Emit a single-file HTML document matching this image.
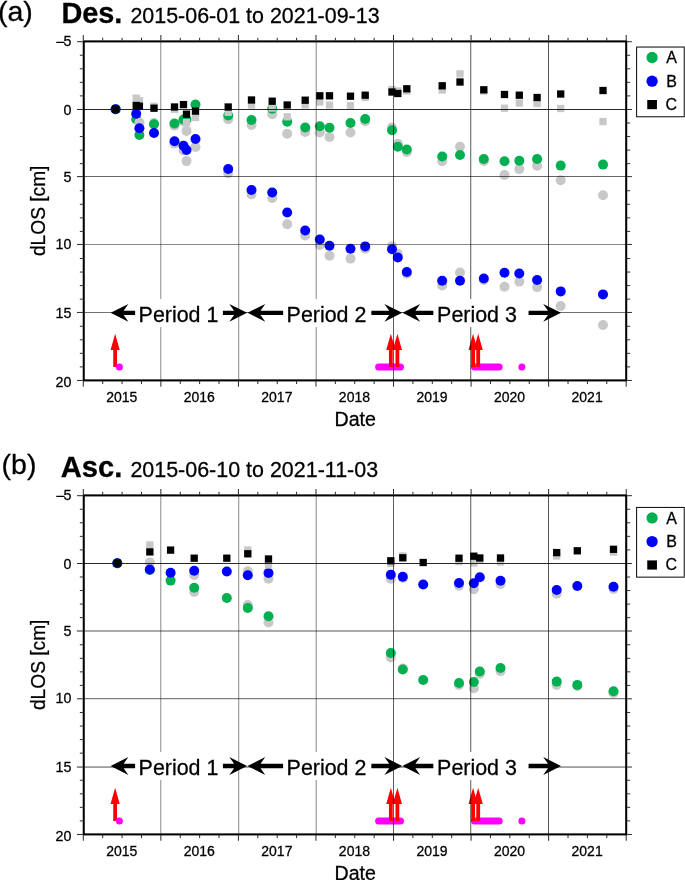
<!DOCTYPE html>
<html><head><meta charset="utf-8"><title>dLOS time series</title>
<style>html,body{margin:0;padding:0;background:#fff}body{width:685px;height:880px;overflow:hidden;font-family:"Liberation Sans",sans-serif}</style>
</head><body>
<svg width="685" height="880" viewBox="0 0 685 880" style="display:block;will-change:transform">
<rect width="685" height="880" fill="#fff"/>
<circle cx="154.0" cy="123.0" r="5" fill="#c8c8c8"/>
<circle cx="174.5" cy="125.6" r="5" fill="#c8c8c8"/>
<circle cx="183.5" cy="121.5" r="5" fill="#c8c8c8"/>
<circle cx="186.5" cy="130.9" r="5" fill="#c8c8c8"/>
<circle cx="228.2" cy="119.3" r="5" fill="#c8c8c8"/>
<circle cx="251.5" cy="125.0" r="5" fill="#c8c8c8"/>
<circle cx="272.2" cy="114.2" r="5" fill="#c8c8c8"/>
<circle cx="287.2" cy="133.8" r="5" fill="#c8c8c8"/>
<circle cx="305.2" cy="132.0" r="5" fill="#c8c8c8"/>
<circle cx="319.8" cy="132.5" r="5" fill="#c8c8c8"/>
<circle cx="329.5" cy="137.0" r="5" fill="#c8c8c8"/>
<circle cx="350.5" cy="132.5" r="5" fill="#c8c8c8"/>
<circle cx="365.2" cy="121.3" r="5" fill="#c8c8c8"/>
<circle cx="392.0" cy="127.5" r="5" fill="#c8c8c8"/>
<circle cx="397.8" cy="143.8" r="5" fill="#c8c8c8"/>
<circle cx="406.8" cy="152.0" r="5" fill="#c8c8c8"/>
<circle cx="442.2" cy="161.2" r="5" fill="#c8c8c8"/>
<circle cx="460.0" cy="146.8" r="5" fill="#c8c8c8"/>
<circle cx="483.8" cy="161.0" r="5" fill="#c8c8c8"/>
<circle cx="504.5" cy="175.0" r="5" fill="#c8c8c8"/>
<circle cx="519.3" cy="169.1" r="5" fill="#c8c8c8"/>
<circle cx="537.1" cy="165.8" r="5" fill="#c8c8c8"/>
<circle cx="560.7" cy="180.2" r="5" fill="#c8c8c8"/>
<circle cx="603.0" cy="195.2" r="5" fill="#c8c8c8"/>
<circle cx="115.6" cy="109.2" r="5" fill="#00b050"/>
<circle cx="136.2" cy="119.2" r="5" fill="#00b050"/>
<circle cx="139.4" cy="135.0" r="5" fill="#00b050"/>
<circle cx="154.0" cy="124.2" r="5" fill="#00b050"/>
<circle cx="174.5" cy="123.5" r="5" fill="#00b050"/>
<circle cx="183.5" cy="119.5" r="5" fill="#00b050"/>
<circle cx="186.5" cy="119.5" r="5" fill="#00b050"/>
<circle cx="195.5" cy="104.5" r="5" fill="#00b050"/>
<circle cx="228.2" cy="115.5" r="5" fill="#00b050"/>
<circle cx="251.5" cy="120.0" r="5" fill="#00b050"/>
<circle cx="272.2" cy="108.8" r="5" fill="#00b050"/>
<circle cx="287.2" cy="121.8" r="5" fill="#00b050"/>
<circle cx="305.2" cy="127.5" r="5" fill="#00b050"/>
<circle cx="319.8" cy="126.2" r="5" fill="#00b050"/>
<circle cx="329.5" cy="127.8" r="5" fill="#00b050"/>
<circle cx="350.5" cy="123.0" r="5" fill="#00b050"/>
<circle cx="365.2" cy="119.0" r="5" fill="#00b050"/>
<circle cx="392.0" cy="130.2" r="5" fill="#00b050"/>
<circle cx="397.8" cy="146.8" r="5" fill="#00b050"/>
<circle cx="406.8" cy="149.5" r="5" fill="#00b050"/>
<circle cx="442.2" cy="156.5" r="5" fill="#00b050"/>
<circle cx="460.0" cy="155.0" r="5" fill="#00b050"/>
<circle cx="483.8" cy="159.0" r="5" fill="#00b050"/>
<circle cx="504.5" cy="161.2" r="5" fill="#00b050"/>
<circle cx="519.3" cy="160.8" r="5" fill="#00b050"/>
<circle cx="537.1" cy="159.0" r="5" fill="#00b050"/>
<circle cx="560.7" cy="165.6" r="5" fill="#00b050"/>
<circle cx="603.0" cy="164.6" r="5" fill="#00b050"/>
<circle cx="139.4" cy="122.5" r="5" fill="#c8c8c8"/>
<circle cx="174.5" cy="143.6" r="5" fill="#c8c8c8"/>
<circle cx="183.5" cy="150.5" r="5" fill="#c8c8c8"/>
<circle cx="186.5" cy="161.1" r="5" fill="#c8c8c8"/>
<circle cx="195.5" cy="147.0" r="5" fill="#c8c8c8"/>
<circle cx="228.2" cy="173.2" r="5" fill="#c8c8c8"/>
<circle cx="251.5" cy="194.5" r="5" fill="#c8c8c8"/>
<circle cx="272.2" cy="198.0" r="5" fill="#c8c8c8"/>
<circle cx="287.2" cy="224.2" r="5" fill="#c8c8c8"/>
<circle cx="305.2" cy="235.5" r="5" fill="#c8c8c8"/>
<circle cx="319.8" cy="245.0" r="5" fill="#c8c8c8"/>
<circle cx="329.5" cy="255.8" r="5" fill="#c8c8c8"/>
<circle cx="350.5" cy="258.8" r="5" fill="#c8c8c8"/>
<circle cx="365.2" cy="248.8" r="5" fill="#c8c8c8"/>
<circle cx="392.0" cy="246.2" r="5" fill="#c8c8c8"/>
<circle cx="397.8" cy="253.8" r="5" fill="#c8c8c8"/>
<circle cx="406.8" cy="273.8" r="5" fill="#c8c8c8"/>
<circle cx="442.2" cy="285.5" r="5" fill="#c8c8c8"/>
<circle cx="460.0" cy="272.5" r="5" fill="#c8c8c8"/>
<circle cx="483.8" cy="280.0" r="5" fill="#c8c8c8"/>
<circle cx="504.5" cy="286.8" r="5" fill="#c8c8c8"/>
<circle cx="519.3" cy="281.6" r="5" fill="#c8c8c8"/>
<circle cx="537.1" cy="287.1" r="5" fill="#c8c8c8"/>
<circle cx="560.7" cy="306.0" r="5" fill="#c8c8c8"/>
<circle cx="603.0" cy="325.0" r="5" fill="#c8c8c8"/>
<circle cx="115.6" cy="109.2" r="5" fill="#0000ff"/>
<circle cx="136.2" cy="113.8" r="5" fill="#0000ff"/>
<circle cx="139.4" cy="128.2" r="5" fill="#0000ff"/>
<circle cx="154.0" cy="133.0" r="5" fill="#0000ff"/>
<circle cx="174.5" cy="141.2" r="5" fill="#0000ff"/>
<circle cx="183.5" cy="145.8" r="5" fill="#0000ff"/>
<circle cx="186.5" cy="150.0" r="5" fill="#0000ff"/>
<circle cx="195.5" cy="139.0" r="5" fill="#0000ff"/>
<circle cx="228.2" cy="169.0" r="5" fill="#0000ff"/>
<circle cx="251.5" cy="190.0" r="5" fill="#0000ff"/>
<circle cx="272.2" cy="192.5" r="5" fill="#0000ff"/>
<circle cx="287.2" cy="212.5" r="5" fill="#0000ff"/>
<circle cx="305.2" cy="230.5" r="5" fill="#0000ff"/>
<circle cx="319.8" cy="239.5" r="5" fill="#0000ff"/>
<circle cx="329.5" cy="245.8" r="5" fill="#0000ff"/>
<circle cx="350.5" cy="248.8" r="5" fill="#0000ff"/>
<circle cx="365.2" cy="246.4" r="5" fill="#0000ff"/>
<circle cx="392.0" cy="249.2" r="5" fill="#0000ff"/>
<circle cx="397.8" cy="257.5" r="5" fill="#0000ff"/>
<circle cx="406.8" cy="272.0" r="5" fill="#0000ff"/>
<circle cx="442.2" cy="280.8" r="5" fill="#0000ff"/>
<circle cx="460.0" cy="280.8" r="5" fill="#0000ff"/>
<circle cx="483.8" cy="278.5" r="5" fill="#0000ff"/>
<circle cx="504.5" cy="272.8" r="5" fill="#0000ff"/>
<circle cx="519.3" cy="273.5" r="5" fill="#0000ff"/>
<circle cx="537.1" cy="280.0" r="5" fill="#0000ff"/>
<circle cx="560.7" cy="291.4" r="5" fill="#0000ff"/>
<circle cx="603.0" cy="294.4" r="5" fill="#0000ff"/>
<rect x="132.55" y="94.55" width="7.3" height="7.3" fill="#c8c8c8"/>
<rect x="135.75" y="96.95" width="7.3" height="7.3" fill="#c8c8c8"/>
<rect x="150.35" y="102.75" width="7.3" height="7.3" fill="#c8c8c8"/>
<rect x="170.85" y="105.65" width="7.3" height="7.3" fill="#c8c8c8"/>
<rect x="182.85" y="118.85" width="7.3" height="7.3" fill="#c8c8c8"/>
<rect x="191.85" y="113.85" width="7.3" height="7.3" fill="#c8c8c8"/>
<rect x="224.55" y="108.65" width="7.3" height="7.3" fill="#c8c8c8"/>
<rect x="247.85" y="101.35" width="7.3" height="7.3" fill="#c8c8c8"/>
<rect x="268.55" y="104.35" width="7.3" height="7.3" fill="#c8c8c8"/>
<rect x="283.55" y="113.15" width="7.3" height="7.3" fill="#c8c8c8"/>
<rect x="301.55" y="101.35" width="7.3" height="7.3" fill="#c8c8c8"/>
<rect x="316.15" y="98.35" width="7.3" height="7.3" fill="#c8c8c8"/>
<rect x="325.85" y="101.35" width="7.3" height="7.3" fill="#c8c8c8"/>
<rect x="346.85" y="101.85" width="7.3" height="7.3" fill="#c8c8c8"/>
<rect x="361.55" y="93.85" width="7.3" height="7.3" fill="#c8c8c8"/>
<rect x="388.35" y="85.85" width="7.3" height="7.3" fill="#c8c8c8"/>
<rect x="394.15" y="87.35" width="7.3" height="7.3" fill="#c8c8c8"/>
<rect x="403.15" y="87.35" width="7.3" height="7.3" fill="#c8c8c8"/>
<rect x="438.55" y="86.35" width="7.3" height="7.3" fill="#c8c8c8"/>
<rect x="456.35" y="70.15" width="7.3" height="7.3" fill="#c8c8c8"/>
<rect x="480.15" y="87.35" width="7.3" height="7.3" fill="#c8c8c8"/>
<rect x="500.85" y="104.55" width="7.3" height="7.3" fill="#c8c8c8"/>
<rect x="515.65" y="99.35" width="7.3" height="7.3" fill="#c8c8c8"/>
<rect x="533.45" y="99.85" width="7.3" height="7.3" fill="#c8c8c8"/>
<rect x="557.05" y="104.85" width="7.3" height="7.3" fill="#c8c8c8"/>
<rect x="599.35" y="117.95" width="7.3" height="7.3" fill="#c8c8c8"/>
<rect x="111.95" y="105.55" width="7.3" height="7.3" fill="#000"/>
<rect x="132.55" y="101.85" width="7.3" height="7.3" fill="#000"/>
<rect x="135.75" y="102.55" width="7.3" height="7.3" fill="#000"/>
<rect x="150.35" y="104.55" width="7.3" height="7.3" fill="#000"/>
<rect x="170.85" y="103.35" width="7.3" height="7.3" fill="#000"/>
<rect x="179.85" y="100.95" width="7.3" height="7.3" fill="#000"/>
<rect x="182.85" y="110.55" width="7.3" height="7.3" fill="#000"/>
<rect x="191.85" y="107.45" width="7.3" height="7.3" fill="#000"/>
<rect x="224.55" y="103.35" width="7.3" height="7.3" fill="#000"/>
<rect x="247.85" y="96.35" width="7.3" height="7.3" fill="#000"/>
<rect x="268.55" y="97.55" width="7.3" height="7.3" fill="#000"/>
<rect x="283.55" y="101.35" width="7.3" height="7.3" fill="#000"/>
<rect x="301.55" y="96.55" width="7.3" height="7.3" fill="#000"/>
<rect x="316.15" y="92.15" width="7.3" height="7.3" fill="#000"/>
<rect x="325.85" y="92.15" width="7.3" height="7.3" fill="#000"/>
<rect x="346.85" y="92.55" width="7.3" height="7.3" fill="#000"/>
<rect x="361.55" y="91.55" width="7.3" height="7.3" fill="#000"/>
<rect x="388.35" y="88.35" width="7.3" height="7.3" fill="#000"/>
<rect x="394.15" y="89.85" width="7.3" height="7.3" fill="#000"/>
<rect x="403.15" y="85.15" width="7.3" height="7.3" fill="#000"/>
<rect x="438.55" y="82.15" width="7.3" height="7.3" fill="#000"/>
<rect x="456.35" y="78.35" width="7.3" height="7.3" fill="#000"/>
<rect x="480.15" y="86.15" width="7.3" height="7.3" fill="#000"/>
<rect x="500.85" y="90.85" width="7.3" height="7.3" fill="#000"/>
<rect x="515.65" y="91.55" width="7.3" height="7.3" fill="#000"/>
<rect x="533.45" y="93.85" width="7.3" height="7.3" fill="#000"/>
<rect x="557.05" y="90.35" width="7.3" height="7.3" fill="#000"/>
<rect x="599.35" y="86.85" width="7.3" height="7.3" fill="#000"/>
<line x1="378.65" y1="366.95" x2="400.45" y2="366.95" stroke="#f0f" stroke-width="7.1" stroke-linecap="round"/>
<line x1="474.55" y1="366.95" x2="499.15" y2="366.95" stroke="#f0f" stroke-width="7.1" stroke-linecap="round"/>
<path d="M113.25,366.95 L113.25,350.10 L110.55,350.10 L115.15,333.80 L119.75,350.10 L117.05,350.10 L117.05,366.95 Z" fill="#f00"/>
<path d="M388.94,366.95 L388.94,350.10 L386.24,350.10 L390.84,333.80 L395.44,350.10 L392.74,350.10 L392.74,366.95 Z" fill="#f00"/>
<path d="M395.50,366.95 L395.50,350.10 L392.80,350.10 L397.40,333.80 L402.00,350.10 L399.30,350.10 L399.30,366.95 Z" fill="#f00"/>
<path d="M471.18,366.95 L471.18,350.10 L468.48,350.10 L473.08,333.80 L477.68,350.10 L474.98,350.10 L474.98,366.95 Z" fill="#f00"/>
<path d="M476.29,366.95 L476.29,350.10 L473.59,350.10 L478.19,333.80 L482.79,350.10 L480.09,350.10 L480.09,366.95 Z" fill="#f00"/>
<circle cx="119.4" cy="366.95" r="3.5" fill="#f0f"/>
<circle cx="521.9" cy="366.95" r="3.5" fill="#f0f"/>
<rect x="160.670" y="41.40" width="0.46" height="338.75" fill="#000"/>
<rect x="238.635" y="41.40" width="0.47" height="338.75" fill="#000"/>
<rect x="315.850" y="41.40" width="0.48" height="338.75" fill="#000"/>
<rect x="393.185" y="41.40" width="0.63" height="338.75" fill="#000"/>
<rect x="470.500" y="41.40" width="0.65" height="338.75" fill="#000"/>
<rect x="548.165" y="41.40" width="0.67" height="338.75" fill="#000"/>
<rect x="83.75" y="109.045" width="542.45" height="0.85" fill="#000"/>
<rect x="83.75" y="176.320" width="542.45" height="0.6" fill="#000"/>
<rect x="83.75" y="244.215" width="542.45" height="0.47" fill="#000"/>
<rect x="83.75" y="312.170" width="542.45" height="0.56" fill="#000"/>
<rect x="83.75" y="41.40" width="542.45" height="339.00" fill="none" stroke="#000" stroke-width="2.05"/>
<line x1="83.30" y1="40.40" x2="83.30" y2="35.00" stroke="#000" stroke-width="0.85"/>
<line x1="83.30" y1="381.15" x2="83.30" y2="386.75" stroke="#000" stroke-width="0.85"/>
<line x1="102.69" y1="40.40" x2="102.69" y2="37.80" stroke="#000" stroke-width="0.85"/>
<line x1="102.69" y1="381.15" x2="102.69" y2="384.05" stroke="#000" stroke-width="0.85"/>
<line x1="122.08" y1="40.40" x2="122.08" y2="37.80" stroke="#000" stroke-width="0.85"/>
<line x1="122.08" y1="381.15" x2="122.08" y2="384.05" stroke="#000" stroke-width="0.85"/>
<line x1="141.47" y1="40.40" x2="141.47" y2="37.80" stroke="#000" stroke-width="0.85"/>
<line x1="141.47" y1="381.15" x2="141.47" y2="384.05" stroke="#000" stroke-width="0.85"/>
<line x1="160.86" y1="40.40" x2="160.86" y2="35.00" stroke="#000" stroke-width="0.85"/>
<line x1="160.86" y1="381.15" x2="160.86" y2="386.75" stroke="#000" stroke-width="0.85"/>
<line x1="180.25" y1="40.40" x2="180.25" y2="37.80" stroke="#000" stroke-width="0.85"/>
<line x1="180.25" y1="381.15" x2="180.25" y2="384.05" stroke="#000" stroke-width="0.85"/>
<line x1="199.64" y1="40.40" x2="199.64" y2="37.80" stroke="#000" stroke-width="0.85"/>
<line x1="199.64" y1="381.15" x2="199.64" y2="384.05" stroke="#000" stroke-width="0.85"/>
<line x1="219.03" y1="40.40" x2="219.03" y2="37.80" stroke="#000" stroke-width="0.85"/>
<line x1="219.03" y1="381.15" x2="219.03" y2="384.05" stroke="#000" stroke-width="0.85"/>
<line x1="238.41" y1="40.40" x2="238.41" y2="35.00" stroke="#000" stroke-width="0.85"/>
<line x1="238.41" y1="381.15" x2="238.41" y2="386.75" stroke="#000" stroke-width="0.85"/>
<line x1="257.80" y1="40.40" x2="257.80" y2="37.80" stroke="#000" stroke-width="0.85"/>
<line x1="257.80" y1="381.15" x2="257.80" y2="384.05" stroke="#000" stroke-width="0.85"/>
<line x1="277.19" y1="40.40" x2="277.19" y2="37.80" stroke="#000" stroke-width="0.85"/>
<line x1="277.19" y1="381.15" x2="277.19" y2="384.05" stroke="#000" stroke-width="0.85"/>
<line x1="296.58" y1="40.40" x2="296.58" y2="37.80" stroke="#000" stroke-width="0.85"/>
<line x1="296.58" y1="381.15" x2="296.58" y2="384.05" stroke="#000" stroke-width="0.85"/>
<line x1="315.97" y1="40.40" x2="315.97" y2="35.00" stroke="#000" stroke-width="0.85"/>
<line x1="315.97" y1="381.15" x2="315.97" y2="386.75" stroke="#000" stroke-width="0.85"/>
<line x1="335.36" y1="40.40" x2="335.36" y2="37.80" stroke="#000" stroke-width="0.85"/>
<line x1="335.36" y1="381.15" x2="335.36" y2="384.05" stroke="#000" stroke-width="0.85"/>
<line x1="354.75" y1="40.40" x2="354.75" y2="37.80" stroke="#000" stroke-width="0.85"/>
<line x1="354.75" y1="381.15" x2="354.75" y2="384.05" stroke="#000" stroke-width="0.85"/>
<line x1="374.14" y1="40.40" x2="374.14" y2="37.80" stroke="#000" stroke-width="0.85"/>
<line x1="374.14" y1="381.15" x2="374.14" y2="384.05" stroke="#000" stroke-width="0.85"/>
<line x1="393.53" y1="40.40" x2="393.53" y2="35.00" stroke="#000" stroke-width="0.85"/>
<line x1="393.53" y1="381.15" x2="393.53" y2="386.75" stroke="#000" stroke-width="0.85"/>
<line x1="412.92" y1="40.40" x2="412.92" y2="37.80" stroke="#000" stroke-width="0.85"/>
<line x1="412.92" y1="381.15" x2="412.92" y2="384.05" stroke="#000" stroke-width="0.85"/>
<line x1="432.31" y1="40.40" x2="432.31" y2="37.80" stroke="#000" stroke-width="0.85"/>
<line x1="432.31" y1="381.15" x2="432.31" y2="384.05" stroke="#000" stroke-width="0.85"/>
<line x1="451.70" y1="40.40" x2="451.70" y2="37.80" stroke="#000" stroke-width="0.85"/>
<line x1="451.70" y1="381.15" x2="451.70" y2="384.05" stroke="#000" stroke-width="0.85"/>
<line x1="471.09" y1="40.40" x2="471.09" y2="35.00" stroke="#000" stroke-width="0.85"/>
<line x1="471.09" y1="381.15" x2="471.09" y2="386.75" stroke="#000" stroke-width="0.85"/>
<line x1="490.48" y1="40.40" x2="490.48" y2="37.80" stroke="#000" stroke-width="0.85"/>
<line x1="490.48" y1="381.15" x2="490.48" y2="384.05" stroke="#000" stroke-width="0.85"/>
<line x1="509.86" y1="40.40" x2="509.86" y2="37.80" stroke="#000" stroke-width="0.85"/>
<line x1="509.86" y1="381.15" x2="509.86" y2="384.05" stroke="#000" stroke-width="0.85"/>
<line x1="529.25" y1="40.40" x2="529.25" y2="37.80" stroke="#000" stroke-width="0.85"/>
<line x1="529.25" y1="381.15" x2="529.25" y2="384.05" stroke="#000" stroke-width="0.85"/>
<line x1="548.64" y1="40.40" x2="548.64" y2="35.00" stroke="#000" stroke-width="0.85"/>
<line x1="548.64" y1="381.15" x2="548.64" y2="386.75" stroke="#000" stroke-width="0.85"/>
<line x1="568.03" y1="40.40" x2="568.03" y2="37.80" stroke="#000" stroke-width="0.85"/>
<line x1="568.03" y1="381.15" x2="568.03" y2="384.05" stroke="#000" stroke-width="0.85"/>
<line x1="587.42" y1="40.40" x2="587.42" y2="37.80" stroke="#000" stroke-width="0.85"/>
<line x1="587.42" y1="381.15" x2="587.42" y2="384.05" stroke="#000" stroke-width="0.85"/>
<line x1="606.81" y1="40.40" x2="606.81" y2="37.80" stroke="#000" stroke-width="0.85"/>
<line x1="606.81" y1="381.15" x2="606.81" y2="384.05" stroke="#000" stroke-width="0.85"/>
<line x1="626.20" y1="40.40" x2="626.20" y2="35.00" stroke="#000" stroke-width="0.85"/>
<line x1="626.20" y1="381.15" x2="626.20" y2="386.75" stroke="#000" stroke-width="0.85"/>
<line x1="82.75" y1="41.70" x2="76.95" y2="41.70" stroke="#000" stroke-width="0.85"/>
<line x1="627.2" y1="41.70" x2="631.90" y2="41.70" stroke="#000" stroke-width="0.85"/>
<line x1="82.75" y1="55.25" x2="79.85" y2="55.25" stroke="#000" stroke-width="0.85"/>
<line x1="627.2" y1="55.25" x2="630.10" y2="55.25" stroke="#000" stroke-width="0.85"/>
<line x1="82.75" y1="68.80" x2="79.85" y2="68.80" stroke="#000" stroke-width="0.85"/>
<line x1="627.2" y1="68.80" x2="630.10" y2="68.80" stroke="#000" stroke-width="0.85"/>
<line x1="82.75" y1="82.35" x2="79.85" y2="82.35" stroke="#000" stroke-width="0.85"/>
<line x1="627.2" y1="82.35" x2="630.10" y2="82.35" stroke="#000" stroke-width="0.85"/>
<line x1="82.75" y1="95.90" x2="79.85" y2="95.90" stroke="#000" stroke-width="0.85"/>
<line x1="627.2" y1="95.90" x2="630.10" y2="95.90" stroke="#000" stroke-width="0.85"/>
<line x1="82.75" y1="109.47" x2="76.95" y2="109.47" stroke="#000" stroke-width="0.85"/>
<line x1="627.2" y1="109.47" x2="631.90" y2="109.47" stroke="#000" stroke-width="0.85"/>
<line x1="82.75" y1="123.00" x2="79.85" y2="123.00" stroke="#000" stroke-width="0.85"/>
<line x1="627.2" y1="123.00" x2="630.10" y2="123.00" stroke="#000" stroke-width="0.85"/>
<line x1="82.75" y1="136.55" x2="79.85" y2="136.55" stroke="#000" stroke-width="0.85"/>
<line x1="627.2" y1="136.55" x2="630.10" y2="136.55" stroke="#000" stroke-width="0.85"/>
<line x1="82.75" y1="150.10" x2="79.85" y2="150.10" stroke="#000" stroke-width="0.85"/>
<line x1="627.2" y1="150.10" x2="630.10" y2="150.10" stroke="#000" stroke-width="0.85"/>
<line x1="82.75" y1="163.65" x2="79.85" y2="163.65" stroke="#000" stroke-width="0.85"/>
<line x1="627.2" y1="163.65" x2="630.10" y2="163.65" stroke="#000" stroke-width="0.85"/>
<line x1="82.75" y1="176.62" x2="76.95" y2="176.62" stroke="#000" stroke-width="0.85"/>
<line x1="627.2" y1="176.62" x2="631.90" y2="176.62" stroke="#000" stroke-width="0.85"/>
<line x1="82.75" y1="190.75" x2="79.85" y2="190.75" stroke="#000" stroke-width="0.85"/>
<line x1="627.2" y1="190.75" x2="630.10" y2="190.75" stroke="#000" stroke-width="0.85"/>
<line x1="82.75" y1="204.30" x2="79.85" y2="204.30" stroke="#000" stroke-width="0.85"/>
<line x1="627.2" y1="204.30" x2="630.10" y2="204.30" stroke="#000" stroke-width="0.85"/>
<line x1="82.75" y1="217.85" x2="79.85" y2="217.85" stroke="#000" stroke-width="0.85"/>
<line x1="627.2" y1="217.85" x2="630.10" y2="217.85" stroke="#000" stroke-width="0.85"/>
<line x1="82.75" y1="231.40" x2="79.85" y2="231.40" stroke="#000" stroke-width="0.85"/>
<line x1="627.2" y1="231.40" x2="630.10" y2="231.40" stroke="#000" stroke-width="0.85"/>
<line x1="82.75" y1="244.45" x2="76.95" y2="244.45" stroke="#000" stroke-width="0.85"/>
<line x1="627.2" y1="244.45" x2="631.90" y2="244.45" stroke="#000" stroke-width="0.85"/>
<line x1="82.75" y1="258.50" x2="79.85" y2="258.50" stroke="#000" stroke-width="0.85"/>
<line x1="627.2" y1="258.50" x2="630.10" y2="258.50" stroke="#000" stroke-width="0.85"/>
<line x1="82.75" y1="272.05" x2="79.85" y2="272.05" stroke="#000" stroke-width="0.85"/>
<line x1="627.2" y1="272.05" x2="630.10" y2="272.05" stroke="#000" stroke-width="0.85"/>
<line x1="82.75" y1="285.60" x2="79.85" y2="285.60" stroke="#000" stroke-width="0.85"/>
<line x1="627.2" y1="285.60" x2="630.10" y2="285.60" stroke="#000" stroke-width="0.85"/>
<line x1="82.75" y1="299.15" x2="79.85" y2="299.15" stroke="#000" stroke-width="0.85"/>
<line x1="627.2" y1="299.15" x2="630.10" y2="299.15" stroke="#000" stroke-width="0.85"/>
<line x1="82.75" y1="312.45" x2="76.95" y2="312.45" stroke="#000" stroke-width="0.85"/>
<line x1="627.2" y1="312.45" x2="631.90" y2="312.45" stroke="#000" stroke-width="0.85"/>
<line x1="82.75" y1="326.25" x2="79.85" y2="326.25" stroke="#000" stroke-width="0.85"/>
<line x1="627.2" y1="326.25" x2="630.10" y2="326.25" stroke="#000" stroke-width="0.85"/>
<line x1="82.75" y1="339.80" x2="79.85" y2="339.80" stroke="#000" stroke-width="0.85"/>
<line x1="627.2" y1="339.80" x2="630.10" y2="339.80" stroke="#000" stroke-width="0.85"/>
<line x1="82.75" y1="353.35" x2="79.85" y2="353.35" stroke="#000" stroke-width="0.85"/>
<line x1="627.2" y1="353.35" x2="630.10" y2="353.35" stroke="#000" stroke-width="0.85"/>
<line x1="82.75" y1="366.90" x2="79.85" y2="366.90" stroke="#000" stroke-width="0.85"/>
<line x1="627.2" y1="366.90" x2="630.10" y2="366.90" stroke="#000" stroke-width="0.85"/>
<line x1="82.75" y1="380.45" x2="76.95" y2="380.45" stroke="#000" stroke-width="0.85"/>
<line x1="627.2" y1="380.45" x2="631.90" y2="380.45" stroke="#000" stroke-width="0.85"/>
<rect x="135.1" y="299.05" width="87.80" height="28" fill="#fff"/>
<text x="138.60" y="321.75" font-size="21.6" font-family="Liberation Sans, sans-serif" stroke="#000" stroke-width="0.28" textLength="79.8" lengthAdjust="spacingAndGlyphs">Period 1</text>
<rect x="283.1" y="299.05" width="88.30" height="28" fill="#fff"/>
<text x="286.60" y="321.75" font-size="21.6" font-family="Liberation Sans, sans-serif" stroke="#000" stroke-width="0.28" textLength="79.8" lengthAdjust="spacingAndGlyphs">Period 2</text>
<rect x="433.3" y="299.05" width="95.30" height="28" fill="#fff"/>
<text x="437.10" y="321.75" font-size="21.6" font-family="Liberation Sans, sans-serif" stroke="#000" stroke-width="0.28" textLength="79.8" lengthAdjust="spacingAndGlyphs">Period 3</text>
<path d="M110.6,312.85 L128.40,303.95 L123.60,310.70 L135.1,310.70 L135.1,315.00 L123.60,315.00 L128.40,321.75 Z" fill="#000"/>
<path d="M247.1,312.85 L229.30,303.95 L234.10,310.70 L222.9,310.70 L222.9,315.00 L234.10,315.00 L229.30,321.75 Z" fill="#000"/>
<path d="M247.5,312.85 L265.30,303.95 L260.50,310.70 L283.1,310.70 L283.1,315.00 L260.50,315.00 L265.30,321.75 Z" fill="#000"/>
<path d="M402.2,312.85 L384.40,303.95 L389.20,310.70 L371.4,310.70 L371.4,315.00 L389.20,315.00 L384.40,321.75 Z" fill="#000"/>
<path d="M402.4,312.85 L420.20,303.95 L415.40,310.70 L433.3,310.70 L433.3,315.00 L415.40,315.00 L420.20,321.75 Z" fill="#000"/>
<path d="M561.0,312.85 L543.20,303.95 L548.00,310.70 L528.6,310.70 L528.6,315.00 L548.00,315.00 L543.20,321.75 Z" fill="#000"/>
<text x="71.40" y="46.30" font-size="14.3" font-family="Liberation Sans, sans-serif" stroke="#000" stroke-width="0.28" text-anchor="end">–<tspan dx="-1.0">5</tspan></text>
<text x="71.40" y="114.90" font-size="14.3" font-family="Liberation Sans, sans-serif" stroke="#000" stroke-width="0.28" text-anchor="end">0</text>
<text x="71.40" y="181.95" font-size="14.3" font-family="Liberation Sans, sans-serif" stroke="#000" stroke-width="0.28" text-anchor="end">5</text>
<text x="71.40" y="248.95" font-size="14.3" font-family="Liberation Sans, sans-serif" stroke="#000" stroke-width="0.28" text-anchor="end">10</text>
<text x="71.40" y="317.60" font-size="14.3" font-family="Liberation Sans, sans-serif" stroke="#000" stroke-width="0.28" text-anchor="end">15</text>
<text x="71.40" y="386.50" font-size="14.3" font-family="Liberation Sans, sans-serif" stroke="#000" stroke-width="0.28" text-anchor="end">20</text>
<text x="121.78" y="402.45" font-size="14.0" font-family="Liberation Sans, sans-serif" stroke="#000" stroke-width="0.28" text-anchor="middle">2015</text>
<text x="199.34" y="402.45" font-size="14.0" font-family="Liberation Sans, sans-serif" stroke="#000" stroke-width="0.28" text-anchor="middle">2016</text>
<text x="276.89" y="402.45" font-size="14.0" font-family="Liberation Sans, sans-serif" stroke="#000" stroke-width="0.28" text-anchor="middle">2017</text>
<text x="354.45" y="402.45" font-size="14.0" font-family="Liberation Sans, sans-serif" stroke="#000" stroke-width="0.28" text-anchor="middle">2018</text>
<text x="432.01" y="402.45" font-size="14.0" font-family="Liberation Sans, sans-serif" stroke="#000" stroke-width="0.28" text-anchor="middle">2019</text>
<text x="509.56" y="402.45" font-size="14.0" font-family="Liberation Sans, sans-serif" stroke="#000" stroke-width="0.28" text-anchor="middle">2020</text>
<text x="587.12" y="402.45" font-size="14.0" font-family="Liberation Sans, sans-serif" stroke="#000" stroke-width="0.28" text-anchor="middle">2021</text>
<text x="355.20" y="425.65" font-size="19.6" font-family="Liberation Sans, sans-serif" stroke="#000" stroke-width="0.28" text-anchor="middle">Date</text>
<text transform="translate(45.4,210.8) rotate(-90)" text-anchor="middle" font-size="20" font-family="Liberation Sans, sans-serif" stroke="#000" stroke-width="0.28" textLength="90.5" lengthAdjust="spacingAndGlyphs">dLOS [cm]</text>
<rect x="636.6" y="47.05" width="47.65" height="69.7" fill="#fff" stroke="#111" stroke-width="1.05"/>
<circle cx="652.1" cy="57.50" r="5.65" fill="#00b050"/>
<circle cx="652.1" cy="81.20" r="5.65" fill="#00f"/>
<rect x="647.25" y="100.00" width="9.7" height="9.2" fill="#000"/>
<text x="666.30" y="63.20" font-size="16" font-family="Liberation Sans, sans-serif" stroke="#000" stroke-width="0.28">A</text>
<text x="666.30" y="86.50" font-size="16" font-family="Liberation Sans, sans-serif" stroke="#000" stroke-width="0.28">B</text>
<text x="665.40" y="109.80" font-size="16" font-family="Liberation Sans, sans-serif" stroke="#000" stroke-width="0.28">C</text>
<text x="-2.00" y="20.70" font-size="28.5" font-family="Liberation Sans, sans-serif" stroke="#000" stroke-width="0.28">(a)</text>
<text x="61.40" y="23.27" font-size="28.6" font-family="Liberation Sans, sans-serif" stroke="#000" stroke-width="0.28" textLength="61" lengthAdjust="spacingAndGlyphs" font-weight="bold">Des.</text>
<text x="130.40" y="23.17" font-size="21.5" font-family="Liberation Sans, sans-serif" stroke="#000" stroke-width="0.28" textLength="249.2" lengthAdjust="spacingAndGlyphs">2015-06-01 to 2021-09-13</text>
<circle cx="194.2" cy="592.0" r="5" fill="#c8c8c8"/>
<circle cx="247.8" cy="605.0" r="5" fill="#c8c8c8"/>
<circle cx="268.5" cy="622.5" r="5" fill="#c8c8c8"/>
<circle cx="390.8" cy="657.5" r="5" fill="#c8c8c8"/>
<circle cx="402.8" cy="668.5" r="5" fill="#c8c8c8"/>
<circle cx="459.0" cy="685.0" r="5" fill="#c8c8c8"/>
<circle cx="473.8" cy="688.2" r="5" fill="#c8c8c8"/>
<circle cx="479.8" cy="673.8" r="5" fill="#c8c8c8"/>
<circle cx="500.5" cy="671.2" r="5" fill="#c8c8c8"/>
<circle cx="556.7" cy="685.0" r="5" fill="#c8c8c8"/>
<circle cx="577.3" cy="686.0" r="5" fill="#c8c8c8"/>
<circle cx="613.5" cy="693.0" r="5" fill="#c8c8c8"/>
<circle cx="117.3" cy="563.2" r="5" fill="#00b050"/>
<circle cx="149.8" cy="570.0" r="5" fill="#00b050"/>
<circle cx="170.6" cy="580.6" r="5" fill="#00b050"/>
<circle cx="194.2" cy="587.8" r="5" fill="#00b050"/>
<circle cx="226.8" cy="598.0" r="5" fill="#00b050"/>
<circle cx="247.8" cy="608.0" r="5" fill="#00b050"/>
<circle cx="268.5" cy="616.2" r="5" fill="#00b050"/>
<circle cx="390.8" cy="653.0" r="5" fill="#00b050"/>
<circle cx="402.8" cy="669.5" r="5" fill="#00b050"/>
<circle cx="423.2" cy="680.0" r="5" fill="#00b050"/>
<circle cx="459.0" cy="683.0" r="5" fill="#00b050"/>
<circle cx="473.8" cy="682.0" r="5" fill="#00b050"/>
<circle cx="479.8" cy="671.5" r="5" fill="#00b050"/>
<circle cx="500.5" cy="668.0" r="5" fill="#00b050"/>
<circle cx="556.7" cy="681.6" r="5" fill="#00b050"/>
<circle cx="577.3" cy="684.9" r="5" fill="#00b050"/>
<circle cx="613.5" cy="691.2" r="5" fill="#00b050"/>
<circle cx="149.8" cy="562.4" r="5" fill="#c8c8c8"/>
<circle cx="194.2" cy="575.0" r="5" fill="#c8c8c8"/>
<circle cx="247.8" cy="571.2" r="5" fill="#c8c8c8"/>
<circle cx="268.5" cy="578.8" r="5" fill="#c8c8c8"/>
<circle cx="390.8" cy="578.8" r="5" fill="#c8c8c8"/>
<circle cx="402.8" cy="578.0" r="5" fill="#c8c8c8"/>
<circle cx="459.0" cy="585.8" r="5" fill="#c8c8c8"/>
<circle cx="473.8" cy="589.2" r="5" fill="#c8c8c8"/>
<circle cx="500.5" cy="584.2" r="5" fill="#c8c8c8"/>
<circle cx="556.7" cy="593.8" r="5" fill="#c8c8c8"/>
<circle cx="613.5" cy="589.0" r="5" fill="#c8c8c8"/>
<circle cx="117.3" cy="563.2" r="5" fill="#0000ff"/>
<circle cx="149.8" cy="569.5" r="5" fill="#0000ff"/>
<circle cx="170.6" cy="572.8" r="5" fill="#0000ff"/>
<circle cx="194.2" cy="570.8" r="5" fill="#0000ff"/>
<circle cx="226.8" cy="571.5" r="5" fill="#0000ff"/>
<circle cx="247.8" cy="575.2" r="5" fill="#0000ff"/>
<circle cx="268.5" cy="573.0" r="5" fill="#0000ff"/>
<circle cx="390.8" cy="574.8" r="5" fill="#0000ff"/>
<circle cx="402.8" cy="576.8" r="5" fill="#0000ff"/>
<circle cx="423.2" cy="584.5" r="5" fill="#0000ff"/>
<circle cx="459.0" cy="583.0" r="5" fill="#0000ff"/>
<circle cx="473.8" cy="583.2" r="5" fill="#0000ff"/>
<circle cx="479.8" cy="577.2" r="5" fill="#0000ff"/>
<circle cx="500.5" cy="580.8" r="5" fill="#0000ff"/>
<circle cx="556.7" cy="590.0" r="5" fill="#0000ff"/>
<circle cx="577.3" cy="586.0" r="5" fill="#0000ff"/>
<circle cx="613.5" cy="586.7" r="5" fill="#0000ff"/>
<rect x="146.20" y="541.25" width="7.3" height="7.3" fill="#c8c8c8"/>
<rect x="244.15" y="546.35" width="7.3" height="7.3" fill="#c8c8c8"/>
<rect x="264.85" y="561.35" width="7.3" height="7.3" fill="#c8c8c8"/>
<rect x="387.15" y="559.85" width="7.3" height="7.3" fill="#c8c8c8"/>
<rect x="399.15" y="552.35" width="7.3" height="7.3" fill="#c8c8c8"/>
<rect x="455.35" y="557.85" width="7.3" height="7.3" fill="#c8c8c8"/>
<rect x="470.15" y="559.35" width="7.3" height="7.3" fill="#c8c8c8"/>
<rect x="476.15" y="556.35" width="7.3" height="7.3" fill="#c8c8c8"/>
<rect x="496.85" y="558.35" width="7.3" height="7.3" fill="#c8c8c8"/>
<rect x="553.05" y="552.35" width="7.3" height="7.3" fill="#c8c8c8"/>
<rect x="609.85" y="548.35" width="7.3" height="7.3" fill="#c8c8c8"/>
<rect x="113.65" y="559.55" width="7.3" height="7.3" fill="#000"/>
<rect x="146.20" y="548.25" width="7.3" height="7.3" fill="#000"/>
<rect x="166.95" y="546.45" width="7.3" height="7.3" fill="#000"/>
<rect x="190.55" y="554.55" width="7.3" height="7.3" fill="#000"/>
<rect x="223.15" y="554.55" width="7.3" height="7.3" fill="#000"/>
<rect x="244.15" y="550.15" width="7.3" height="7.3" fill="#000"/>
<rect x="264.85" y="555.35" width="7.3" height="7.3" fill="#000"/>
<rect x="387.15" y="557.15" width="7.3" height="7.3" fill="#000"/>
<rect x="399.15" y="554.15" width="7.3" height="7.3" fill="#000"/>
<rect x="419.55" y="558.85" width="7.3" height="7.3" fill="#000"/>
<rect x="455.35" y="554.55" width="7.3" height="7.3" fill="#000"/>
<rect x="470.15" y="552.55" width="7.3" height="7.3" fill="#000"/>
<rect x="476.15" y="554.35" width="7.3" height="7.3" fill="#000"/>
<rect x="496.85" y="554.35" width="7.3" height="7.3" fill="#000"/>
<rect x="553.05" y="548.95" width="7.3" height="7.3" fill="#000"/>
<rect x="573.65" y="547.15" width="7.3" height="7.3" fill="#000"/>
<rect x="609.85" y="545.65" width="7.3" height="7.3" fill="#000"/>
<line x1="378.65" y1="820.95" x2="400.45" y2="820.95" stroke="#f0f" stroke-width="7.1" stroke-linecap="round"/>
<line x1="474.55" y1="820.95" x2="499.15" y2="820.95" stroke="#f0f" stroke-width="7.1" stroke-linecap="round"/>
<path d="M113.25,820.95 L113.25,804.10 L110.55,804.10 L115.15,787.80 L119.75,804.10 L117.05,804.10 L117.05,820.95 Z" fill="#f00"/>
<path d="M388.94,820.95 L388.94,804.10 L386.24,804.10 L390.84,787.80 L395.44,804.10 L392.74,804.10 L392.74,820.95 Z" fill="#f00"/>
<path d="M395.50,820.95 L395.50,804.10 L392.80,804.10 L397.40,787.80 L402.00,804.10 L399.30,804.10 L399.30,820.95 Z" fill="#f00"/>
<path d="M471.18,820.95 L471.18,804.10 L468.48,804.10 L473.08,787.80 L477.68,804.10 L474.98,804.10 L474.98,820.95 Z" fill="#f00"/>
<path d="M476.29,820.95 L476.29,804.10 L473.59,804.10 L478.19,787.80 L482.79,804.10 L480.09,804.10 L480.09,820.95 Z" fill="#f00"/>
<circle cx="119.4" cy="820.95" r="3.5" fill="#f0f"/>
<circle cx="521.9" cy="820.95" r="3.5" fill="#f0f"/>
<rect x="160.670" y="495.40" width="0.46" height="338.75" fill="#000"/>
<rect x="238.635" y="495.40" width="0.47" height="338.75" fill="#000"/>
<rect x="315.850" y="495.40" width="0.48" height="338.75" fill="#000"/>
<rect x="393.185" y="495.40" width="0.63" height="338.75" fill="#000"/>
<rect x="470.500" y="495.40" width="0.65" height="338.75" fill="#000"/>
<rect x="548.165" y="495.40" width="0.67" height="338.75" fill="#000"/>
<rect x="83.75" y="563.045" width="542.45" height="0.85" fill="#000"/>
<rect x="83.75" y="630.670" width="542.45" height="0.66" fill="#000"/>
<rect x="83.75" y="698.500" width="542.45" height="0.62" fill="#000"/>
<rect x="83.75" y="766.700" width="542.45" height="0.68" fill="#000"/>
<rect x="83.75" y="495.40" width="542.45" height="339.00" fill="none" stroke="#000" stroke-width="2.05"/>
<line x1="83.30" y1="494.40" x2="83.30" y2="489.00" stroke="#000" stroke-width="0.85"/>
<line x1="83.30" y1="835.15" x2="83.30" y2="840.75" stroke="#000" stroke-width="0.85"/>
<line x1="102.69" y1="494.40" x2="102.69" y2="491.80" stroke="#000" stroke-width="0.85"/>
<line x1="102.69" y1="835.15" x2="102.69" y2="838.05" stroke="#000" stroke-width="0.85"/>
<line x1="122.08" y1="494.40" x2="122.08" y2="491.80" stroke="#000" stroke-width="0.85"/>
<line x1="122.08" y1="835.15" x2="122.08" y2="838.05" stroke="#000" stroke-width="0.85"/>
<line x1="141.47" y1="494.40" x2="141.47" y2="491.80" stroke="#000" stroke-width="0.85"/>
<line x1="141.47" y1="835.15" x2="141.47" y2="838.05" stroke="#000" stroke-width="0.85"/>
<line x1="160.86" y1="494.40" x2="160.86" y2="489.00" stroke="#000" stroke-width="0.85"/>
<line x1="160.86" y1="835.15" x2="160.86" y2="840.75" stroke="#000" stroke-width="0.85"/>
<line x1="180.25" y1="494.40" x2="180.25" y2="491.80" stroke="#000" stroke-width="0.85"/>
<line x1="180.25" y1="835.15" x2="180.25" y2="838.05" stroke="#000" stroke-width="0.85"/>
<line x1="199.64" y1="494.40" x2="199.64" y2="491.80" stroke="#000" stroke-width="0.85"/>
<line x1="199.64" y1="835.15" x2="199.64" y2="838.05" stroke="#000" stroke-width="0.85"/>
<line x1="219.03" y1="494.40" x2="219.03" y2="491.80" stroke="#000" stroke-width="0.85"/>
<line x1="219.03" y1="835.15" x2="219.03" y2="838.05" stroke="#000" stroke-width="0.85"/>
<line x1="238.41" y1="494.40" x2="238.41" y2="489.00" stroke="#000" stroke-width="0.85"/>
<line x1="238.41" y1="835.15" x2="238.41" y2="840.75" stroke="#000" stroke-width="0.85"/>
<line x1="257.80" y1="494.40" x2="257.80" y2="491.80" stroke="#000" stroke-width="0.85"/>
<line x1="257.80" y1="835.15" x2="257.80" y2="838.05" stroke="#000" stroke-width="0.85"/>
<line x1="277.19" y1="494.40" x2="277.19" y2="491.80" stroke="#000" stroke-width="0.85"/>
<line x1="277.19" y1="835.15" x2="277.19" y2="838.05" stroke="#000" stroke-width="0.85"/>
<line x1="296.58" y1="494.40" x2="296.58" y2="491.80" stroke="#000" stroke-width="0.85"/>
<line x1="296.58" y1="835.15" x2="296.58" y2="838.05" stroke="#000" stroke-width="0.85"/>
<line x1="315.97" y1="494.40" x2="315.97" y2="489.00" stroke="#000" stroke-width="0.85"/>
<line x1="315.97" y1="835.15" x2="315.97" y2="840.75" stroke="#000" stroke-width="0.85"/>
<line x1="335.36" y1="494.40" x2="335.36" y2="491.80" stroke="#000" stroke-width="0.85"/>
<line x1="335.36" y1="835.15" x2="335.36" y2="838.05" stroke="#000" stroke-width="0.85"/>
<line x1="354.75" y1="494.40" x2="354.75" y2="491.80" stroke="#000" stroke-width="0.85"/>
<line x1="354.75" y1="835.15" x2="354.75" y2="838.05" stroke="#000" stroke-width="0.85"/>
<line x1="374.14" y1="494.40" x2="374.14" y2="491.80" stroke="#000" stroke-width="0.85"/>
<line x1="374.14" y1="835.15" x2="374.14" y2="838.05" stroke="#000" stroke-width="0.85"/>
<line x1="393.53" y1="494.40" x2="393.53" y2="489.00" stroke="#000" stroke-width="0.85"/>
<line x1="393.53" y1="835.15" x2="393.53" y2="840.75" stroke="#000" stroke-width="0.85"/>
<line x1="412.92" y1="494.40" x2="412.92" y2="491.80" stroke="#000" stroke-width="0.85"/>
<line x1="412.92" y1="835.15" x2="412.92" y2="838.05" stroke="#000" stroke-width="0.85"/>
<line x1="432.31" y1="494.40" x2="432.31" y2="491.80" stroke="#000" stroke-width="0.85"/>
<line x1="432.31" y1="835.15" x2="432.31" y2="838.05" stroke="#000" stroke-width="0.85"/>
<line x1="451.70" y1="494.40" x2="451.70" y2="491.80" stroke="#000" stroke-width="0.85"/>
<line x1="451.70" y1="835.15" x2="451.70" y2="838.05" stroke="#000" stroke-width="0.85"/>
<line x1="471.09" y1="494.40" x2="471.09" y2="489.00" stroke="#000" stroke-width="0.85"/>
<line x1="471.09" y1="835.15" x2="471.09" y2="840.75" stroke="#000" stroke-width="0.85"/>
<line x1="490.48" y1="494.40" x2="490.48" y2="491.80" stroke="#000" stroke-width="0.85"/>
<line x1="490.48" y1="835.15" x2="490.48" y2="838.05" stroke="#000" stroke-width="0.85"/>
<line x1="509.86" y1="494.40" x2="509.86" y2="491.80" stroke="#000" stroke-width="0.85"/>
<line x1="509.86" y1="835.15" x2="509.86" y2="838.05" stroke="#000" stroke-width="0.85"/>
<line x1="529.25" y1="494.40" x2="529.25" y2="491.80" stroke="#000" stroke-width="0.85"/>
<line x1="529.25" y1="835.15" x2="529.25" y2="838.05" stroke="#000" stroke-width="0.85"/>
<line x1="548.64" y1="494.40" x2="548.64" y2="489.00" stroke="#000" stroke-width="0.85"/>
<line x1="548.64" y1="835.15" x2="548.64" y2="840.75" stroke="#000" stroke-width="0.85"/>
<line x1="568.03" y1="494.40" x2="568.03" y2="491.80" stroke="#000" stroke-width="0.85"/>
<line x1="568.03" y1="835.15" x2="568.03" y2="838.05" stroke="#000" stroke-width="0.85"/>
<line x1="587.42" y1="494.40" x2="587.42" y2="491.80" stroke="#000" stroke-width="0.85"/>
<line x1="587.42" y1="835.15" x2="587.42" y2="838.05" stroke="#000" stroke-width="0.85"/>
<line x1="606.81" y1="494.40" x2="606.81" y2="491.80" stroke="#000" stroke-width="0.85"/>
<line x1="606.81" y1="835.15" x2="606.81" y2="838.05" stroke="#000" stroke-width="0.85"/>
<line x1="626.20" y1="494.40" x2="626.20" y2="489.00" stroke="#000" stroke-width="0.85"/>
<line x1="626.20" y1="835.15" x2="626.20" y2="840.75" stroke="#000" stroke-width="0.85"/>
<line x1="82.75" y1="495.70" x2="76.95" y2="495.70" stroke="#000" stroke-width="0.85"/>
<line x1="627.2" y1="495.70" x2="631.90" y2="495.70" stroke="#000" stroke-width="0.85"/>
<line x1="82.75" y1="509.25" x2="79.85" y2="509.25" stroke="#000" stroke-width="0.85"/>
<line x1="627.2" y1="509.25" x2="630.10" y2="509.25" stroke="#000" stroke-width="0.85"/>
<line x1="82.75" y1="522.80" x2="79.85" y2="522.80" stroke="#000" stroke-width="0.85"/>
<line x1="627.2" y1="522.80" x2="630.10" y2="522.80" stroke="#000" stroke-width="0.85"/>
<line x1="82.75" y1="536.35" x2="79.85" y2="536.35" stroke="#000" stroke-width="0.85"/>
<line x1="627.2" y1="536.35" x2="630.10" y2="536.35" stroke="#000" stroke-width="0.85"/>
<line x1="82.75" y1="549.90" x2="79.85" y2="549.90" stroke="#000" stroke-width="0.85"/>
<line x1="627.2" y1="549.90" x2="630.10" y2="549.90" stroke="#000" stroke-width="0.85"/>
<line x1="82.75" y1="563.47" x2="76.95" y2="563.47" stroke="#000" stroke-width="0.85"/>
<line x1="627.2" y1="563.47" x2="631.90" y2="563.47" stroke="#000" stroke-width="0.85"/>
<line x1="82.75" y1="577.00" x2="79.85" y2="577.00" stroke="#000" stroke-width="0.85"/>
<line x1="627.2" y1="577.00" x2="630.10" y2="577.00" stroke="#000" stroke-width="0.85"/>
<line x1="82.75" y1="590.55" x2="79.85" y2="590.55" stroke="#000" stroke-width="0.85"/>
<line x1="627.2" y1="590.55" x2="630.10" y2="590.55" stroke="#000" stroke-width="0.85"/>
<line x1="82.75" y1="604.10" x2="79.85" y2="604.10" stroke="#000" stroke-width="0.85"/>
<line x1="627.2" y1="604.10" x2="630.10" y2="604.10" stroke="#000" stroke-width="0.85"/>
<line x1="82.75" y1="617.65" x2="79.85" y2="617.65" stroke="#000" stroke-width="0.85"/>
<line x1="627.2" y1="617.65" x2="630.10" y2="617.65" stroke="#000" stroke-width="0.85"/>
<line x1="82.75" y1="631.00" x2="76.95" y2="631.00" stroke="#000" stroke-width="0.85"/>
<line x1="627.2" y1="631.00" x2="631.90" y2="631.00" stroke="#000" stroke-width="0.85"/>
<line x1="82.75" y1="644.75" x2="79.85" y2="644.75" stroke="#000" stroke-width="0.85"/>
<line x1="627.2" y1="644.75" x2="630.10" y2="644.75" stroke="#000" stroke-width="0.85"/>
<line x1="82.75" y1="658.30" x2="79.85" y2="658.30" stroke="#000" stroke-width="0.85"/>
<line x1="627.2" y1="658.30" x2="630.10" y2="658.30" stroke="#000" stroke-width="0.85"/>
<line x1="82.75" y1="671.85" x2="79.85" y2="671.85" stroke="#000" stroke-width="0.85"/>
<line x1="627.2" y1="671.85" x2="630.10" y2="671.85" stroke="#000" stroke-width="0.85"/>
<line x1="82.75" y1="685.40" x2="79.85" y2="685.40" stroke="#000" stroke-width="0.85"/>
<line x1="627.2" y1="685.40" x2="630.10" y2="685.40" stroke="#000" stroke-width="0.85"/>
<line x1="82.75" y1="698.81" x2="76.95" y2="698.81" stroke="#000" stroke-width="0.85"/>
<line x1="627.2" y1="698.81" x2="631.90" y2="698.81" stroke="#000" stroke-width="0.85"/>
<line x1="82.75" y1="712.50" x2="79.85" y2="712.50" stroke="#000" stroke-width="0.85"/>
<line x1="627.2" y1="712.50" x2="630.10" y2="712.50" stroke="#000" stroke-width="0.85"/>
<line x1="82.75" y1="726.05" x2="79.85" y2="726.05" stroke="#000" stroke-width="0.85"/>
<line x1="627.2" y1="726.05" x2="630.10" y2="726.05" stroke="#000" stroke-width="0.85"/>
<line x1="82.75" y1="739.60" x2="79.85" y2="739.60" stroke="#000" stroke-width="0.85"/>
<line x1="627.2" y1="739.60" x2="630.10" y2="739.60" stroke="#000" stroke-width="0.85"/>
<line x1="82.75" y1="753.15" x2="79.85" y2="753.15" stroke="#000" stroke-width="0.85"/>
<line x1="627.2" y1="753.15" x2="630.10" y2="753.15" stroke="#000" stroke-width="0.85"/>
<line x1="82.75" y1="767.04" x2="76.95" y2="767.04" stroke="#000" stroke-width="0.85"/>
<line x1="627.2" y1="767.04" x2="631.90" y2="767.04" stroke="#000" stroke-width="0.85"/>
<line x1="82.75" y1="780.25" x2="79.85" y2="780.25" stroke="#000" stroke-width="0.85"/>
<line x1="627.2" y1="780.25" x2="630.10" y2="780.25" stroke="#000" stroke-width="0.85"/>
<line x1="82.75" y1="793.80" x2="79.85" y2="793.80" stroke="#000" stroke-width="0.85"/>
<line x1="627.2" y1="793.80" x2="630.10" y2="793.80" stroke="#000" stroke-width="0.85"/>
<line x1="82.75" y1="807.35" x2="79.85" y2="807.35" stroke="#000" stroke-width="0.85"/>
<line x1="627.2" y1="807.35" x2="630.10" y2="807.35" stroke="#000" stroke-width="0.85"/>
<line x1="82.75" y1="820.90" x2="79.85" y2="820.90" stroke="#000" stroke-width="0.85"/>
<line x1="627.2" y1="820.90" x2="630.10" y2="820.90" stroke="#000" stroke-width="0.85"/>
<line x1="82.75" y1="834.45" x2="76.95" y2="834.45" stroke="#000" stroke-width="0.85"/>
<line x1="627.2" y1="834.45" x2="631.90" y2="834.45" stroke="#000" stroke-width="0.85"/>
<rect x="135.1" y="751.95" width="87.80" height="28" fill="#fff"/>
<text x="138.60" y="774.64" font-size="21.6" font-family="Liberation Sans, sans-serif" stroke="#000" stroke-width="0.28" textLength="79.8" lengthAdjust="spacingAndGlyphs">Period 1</text>
<rect x="283.1" y="751.95" width="88.30" height="28" fill="#fff"/>
<text x="286.60" y="774.64" font-size="21.6" font-family="Liberation Sans, sans-serif" stroke="#000" stroke-width="0.28" textLength="79.8" lengthAdjust="spacingAndGlyphs">Period 2</text>
<rect x="433.3" y="751.95" width="95.30" height="28" fill="#fff"/>
<text x="437.10" y="774.64" font-size="21.6" font-family="Liberation Sans, sans-serif" stroke="#000" stroke-width="0.28" textLength="79.8" lengthAdjust="spacingAndGlyphs">Period 3</text>
<path d="M110.6,766.00 L128.40,757.10 L123.60,763.85 L135.1,763.85 L135.1,768.15 L123.60,768.15 L128.40,774.90 Z" fill="#000"/>
<path d="M247.1,766.00 L229.30,757.10 L234.10,763.85 L222.9,763.85 L222.9,768.15 L234.10,768.15 L229.30,774.90 Z" fill="#000"/>
<path d="M247.5,766.00 L265.30,757.10 L260.50,763.85 L283.1,763.85 L283.1,768.15 L260.50,768.15 L265.30,774.90 Z" fill="#000"/>
<path d="M402.2,766.00 L384.40,757.10 L389.20,763.85 L371.4,763.85 L371.4,768.15 L389.20,768.15 L384.40,774.90 Z" fill="#000"/>
<path d="M402.4,766.00 L420.20,757.10 L415.40,763.85 L433.3,763.85 L433.3,768.15 L415.40,768.15 L420.20,774.90 Z" fill="#000"/>
<path d="M561.0,766.00 L543.20,757.10 L548.00,763.85 L528.6,763.85 L528.6,768.15 L548.00,768.15 L543.20,774.90 Z" fill="#000"/>
<text x="71.40" y="500.30" font-size="14.3" font-family="Liberation Sans, sans-serif" stroke="#000" stroke-width="0.28" text-anchor="end">–<tspan dx="-1.0">5</tspan></text>
<text x="71.40" y="568.90" font-size="14.3" font-family="Liberation Sans, sans-serif" stroke="#000" stroke-width="0.28" text-anchor="end">0</text>
<text x="71.40" y="635.95" font-size="14.3" font-family="Liberation Sans, sans-serif" stroke="#000" stroke-width="0.28" text-anchor="end">5</text>
<text x="71.40" y="702.95" font-size="14.3" font-family="Liberation Sans, sans-serif" stroke="#000" stroke-width="0.28" text-anchor="end">10</text>
<text x="71.40" y="771.60" font-size="14.3" font-family="Liberation Sans, sans-serif" stroke="#000" stroke-width="0.28" text-anchor="end">15</text>
<text x="71.40" y="840.50" font-size="14.3" font-family="Liberation Sans, sans-serif" stroke="#000" stroke-width="0.28" text-anchor="end">20</text>
<text x="121.78" y="856.45" font-size="14.0" font-family="Liberation Sans, sans-serif" stroke="#000" stroke-width="0.28" text-anchor="middle">2015</text>
<text x="199.34" y="856.45" font-size="14.0" font-family="Liberation Sans, sans-serif" stroke="#000" stroke-width="0.28" text-anchor="middle">2016</text>
<text x="276.89" y="856.45" font-size="14.0" font-family="Liberation Sans, sans-serif" stroke="#000" stroke-width="0.28" text-anchor="middle">2017</text>
<text x="354.45" y="856.45" font-size="14.0" font-family="Liberation Sans, sans-serif" stroke="#000" stroke-width="0.28" text-anchor="middle">2018</text>
<text x="432.01" y="856.45" font-size="14.0" font-family="Liberation Sans, sans-serif" stroke="#000" stroke-width="0.28" text-anchor="middle">2019</text>
<text x="509.56" y="856.45" font-size="14.0" font-family="Liberation Sans, sans-serif" stroke="#000" stroke-width="0.28" text-anchor="middle">2020</text>
<text x="587.12" y="856.45" font-size="14.0" font-family="Liberation Sans, sans-serif" stroke="#000" stroke-width="0.28" text-anchor="middle">2021</text>
<text x="355.20" y="879.65" font-size="19.6" font-family="Liberation Sans, sans-serif" stroke="#000" stroke-width="0.28" text-anchor="middle">Date</text>
<text transform="translate(45.4,664.8) rotate(-90)" text-anchor="middle" font-size="20" font-family="Liberation Sans, sans-serif" stroke="#000" stroke-width="0.28" textLength="90.5" lengthAdjust="spacingAndGlyphs">dLOS [cm]</text>
<rect x="636.6" y="507.45" width="47.65" height="69.7" fill="#fff" stroke="#111" stroke-width="1.05"/>
<circle cx="652.1" cy="517.90" r="5.65" fill="#00b050"/>
<circle cx="652.1" cy="541.60" r="5.65" fill="#00f"/>
<rect x="647.25" y="560.40" width="9.7" height="9.2" fill="#000"/>
<text x="666.30" y="523.60" font-size="16" font-family="Liberation Sans, sans-serif" stroke="#000" stroke-width="0.28">A</text>
<text x="666.30" y="546.90" font-size="16" font-family="Liberation Sans, sans-serif" stroke="#000" stroke-width="0.28">B</text>
<text x="665.40" y="570.20" font-size="16" font-family="Liberation Sans, sans-serif" stroke="#000" stroke-width="0.28">C</text>
<text x="1.60" y="474.30" font-size="28.5" font-family="Liberation Sans, sans-serif" stroke="#000" stroke-width="0.28">(b)</text>
<text x="60.70" y="476.75" font-size="28.6" font-family="Liberation Sans, sans-serif" stroke="#000" stroke-width="0.28" textLength="61.6" lengthAdjust="spacingAndGlyphs" font-weight="bold">Asc.</text>
<text x="130.40" y="476.65" font-size="21.5" font-family="Liberation Sans, sans-serif" stroke="#000" stroke-width="0.28" textLength="247.7" lengthAdjust="spacingAndGlyphs">2015-06-10 to 2021-11-03</text>
</svg>
</body></html>
